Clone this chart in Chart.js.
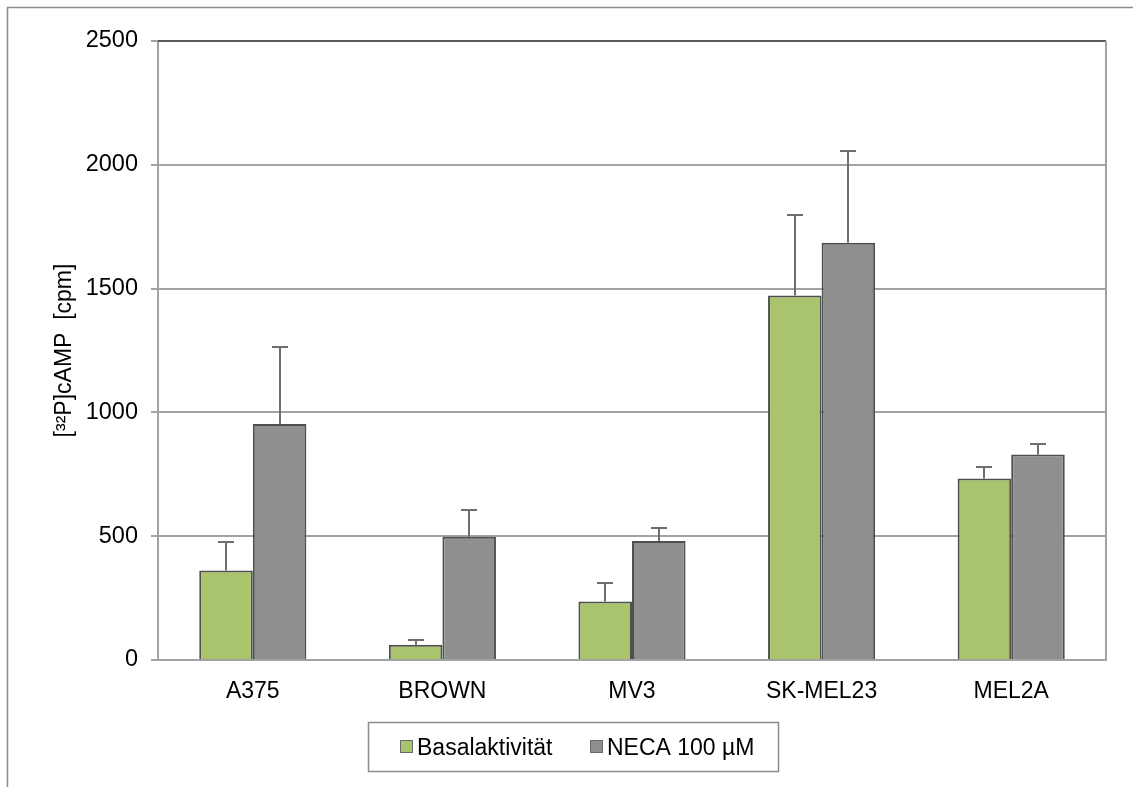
<!DOCTYPE html>
<html>
<head>
<meta charset="utf-8">
<script src="https://cdn.jsdelivr.net/npm/chart.js@4.4.1/dist/chart.umd.min.js"></script>
<style>
  html, body { margin: 0; padding: 0; background: #ffffff; }
  #wrap { width: 1133px; height: 787px; position: relative; }
</style>
</head>
<body>
<div id="wrap"><canvas id="c" width="1133" height="787"></canvas></div>
<script>
// cAMP accumulation per melanoma cell line
const cellLines = ['A375', 'BROWN', 'MV3', 'SK-MEL23', 'MEL2A'];
const basal = [361, 62, 236, 1472, 733];
const basalErr = [117, 17, 74, 325, 46];
const neca = [953, 498, 481, 1685, 830];
const necaErr = [310, 107, 54, 372, 44];
const yTicks = [0, 500, 1000, 1500, 2000, 2500];
const seriesNames = ['Basalaktivität', 'NECA 100 µM'];
const yTitle = '[³²P]cAMP  [cpm]';

const FONT = "'Liberation Sans', Arial, sans-serif";
const GREEN = '#A9C46C';
const GREY = '#8F8F8F';
const EDGE = '#4f4f4f';
const GRID = '#a2a2a2';

// Error bars (upper whisker only) from the error arrays
const errorBars = {
  id: 'errorBars',
  afterDatasetsDraw(chart) {
    const ctx = chart.ctx;
    const y = chart.scales.y;
    ctx.save();
    ctx.strokeStyle = '#6e6e6e';
    ctx.lineWidth = 2;
    chart.data.datasets.forEach((ds, i) => {
      const meta = chart.getDatasetMeta(i);
      meta.data.forEach((bar, j) => {
        const top = Math.round(y.getPixelForValue(ds.data[j] + ds.errors[j]));
        const x = Math.round(bar.x);
        ctx.beginPath();
        ctx.moveTo(x, bar.y);
        ctx.lineTo(x, top);
        ctx.moveTo(x - 8, top);
        ctx.lineTo(x + 8, top);
        ctx.stroke();
      });
    });
    ctx.restore();
  }
};

// Outer frame, plot-area border and boxed legend
const frame = {
  id: 'frame',
  beforeDraw(chart) {
    const ctx = chart.ctx;
    ctx.save();
    ctx.fillStyle = '#ffffff';
    ctx.fillRect(0, 0, chart.width, chart.height);
    ctx.restore();
  },
  afterDraw(chart) {
    const ctx = chart.ctx;
    const a = chart.chartArea;
    ctx.save();
    // outer frame
    ctx.strokeStyle = '#8c8c8c';
    ctx.lineWidth = 1.5;
    ctx.beginPath();
    ctx.moveTo(7.5, chart.height);
    ctx.lineTo(7.5, 7.5);
    ctx.lineTo(chart.width, 7.5);
    ctx.stroke();
    // plot top and right edges
    ctx.lineWidth = 2;
    ctx.strokeStyle = '#595959';
    ctx.beginPath();
    ctx.moveTo(a.left, a.top);
    ctx.lineTo(a.right, a.top);
    ctx.stroke();
    ctx.strokeStyle = GRID;
    ctx.beginPath();
    ctx.moveTo(a.right, a.top);
    ctx.lineTo(a.right, a.bottom);
    ctx.stroke();
    // legend
    const lx = 368, ly = 722, lw = 410, lh = 49;
    ctx.strokeStyle = '#8c8c8c';
    ctx.lineWidth = 1.5;
    ctx.strokeRect(lx + 0.5, ly + 0.5, lw, lh);
    ctx.font = '23px ' + FONT;
    ctx.textBaseline = 'alphabetic';
    const itemX = [400, 590];
    chart.data.datasets.forEach((ds, i) => {
      const sx = itemX[i];
      ctx.fillStyle = ds.backgroundColor;
      ctx.fillRect(sx, 740, 13, 13);
      ctx.strokeStyle = '#6a6a6a';
      ctx.lineWidth = 1;
      ctx.strokeRect(sx + 0.5, 740.5, 12, 12);
      ctx.fillStyle = '#000';
      ctx.fillText(ds.label, sx + 17, 755);
    });
    ctx.restore();
  }
};

new Chart(document.getElementById('c'), {
  type: 'bar',
  data: {
    labels: cellLines,
    datasets: [
      { label: seriesNames[0], data: basal, errors: basalErr,
        backgroundColor: GREEN, borderColor: EDGE, borderWidth: 2 },
      { label: seriesNames[1], data: neca, errors: necaErr,
        backgroundColor: GREY, borderColor: EDGE, borderWidth: 2 }
    ]
  },
  options: {
    responsive: false,
    animation: false,
    devicePixelRatio: 1,
    layout: { padding: { top: 41, right: 27, left: 0, bottom: 0 } },
    datasets: { bar: { categoryPercentage: 0.565, barPercentage: 1.0 } },
    plugins: {
      legend: { display: false },
      tooltip: { enabled: false }
    },
    scales: {
      x: {
        afterFit(s) { s.height = 127; },
        grid: { display: false, drawTicks: false },
        border: { display: true, color: GRID, width: 2 },
        ticks: { color: '#000', font: { family: FONT, size: 23 }, padding: 18, maxRotation: 0 }
      },
      y: {
        min: 0,
        max: 2500,
        afterFit(s) { s.width = 158; },
        afterBuildTicks(s) { s.ticks = yTicks.map(v => ({ value: v })); },
        grid: { color: GRID, lineWidth: 2, tickLength: 7, drawTicks: true },
        border: { display: true, color: GRID, width: 2 },
        ticks: {
          color: '#000',
          font: { family: FONT, size: 23.5 },
          padding: 13,
          callback: v => String(v)
        },
        title: {
          display: true,
          text: yTitle,
          color: '#000',
          font: { family: FONT, size: 23 },
          padding: { top: 51, bottom: 0 }
        }
      }
    }
  },
  plugins: [errorBars, frame]
});
</script>
</body>
</html>
